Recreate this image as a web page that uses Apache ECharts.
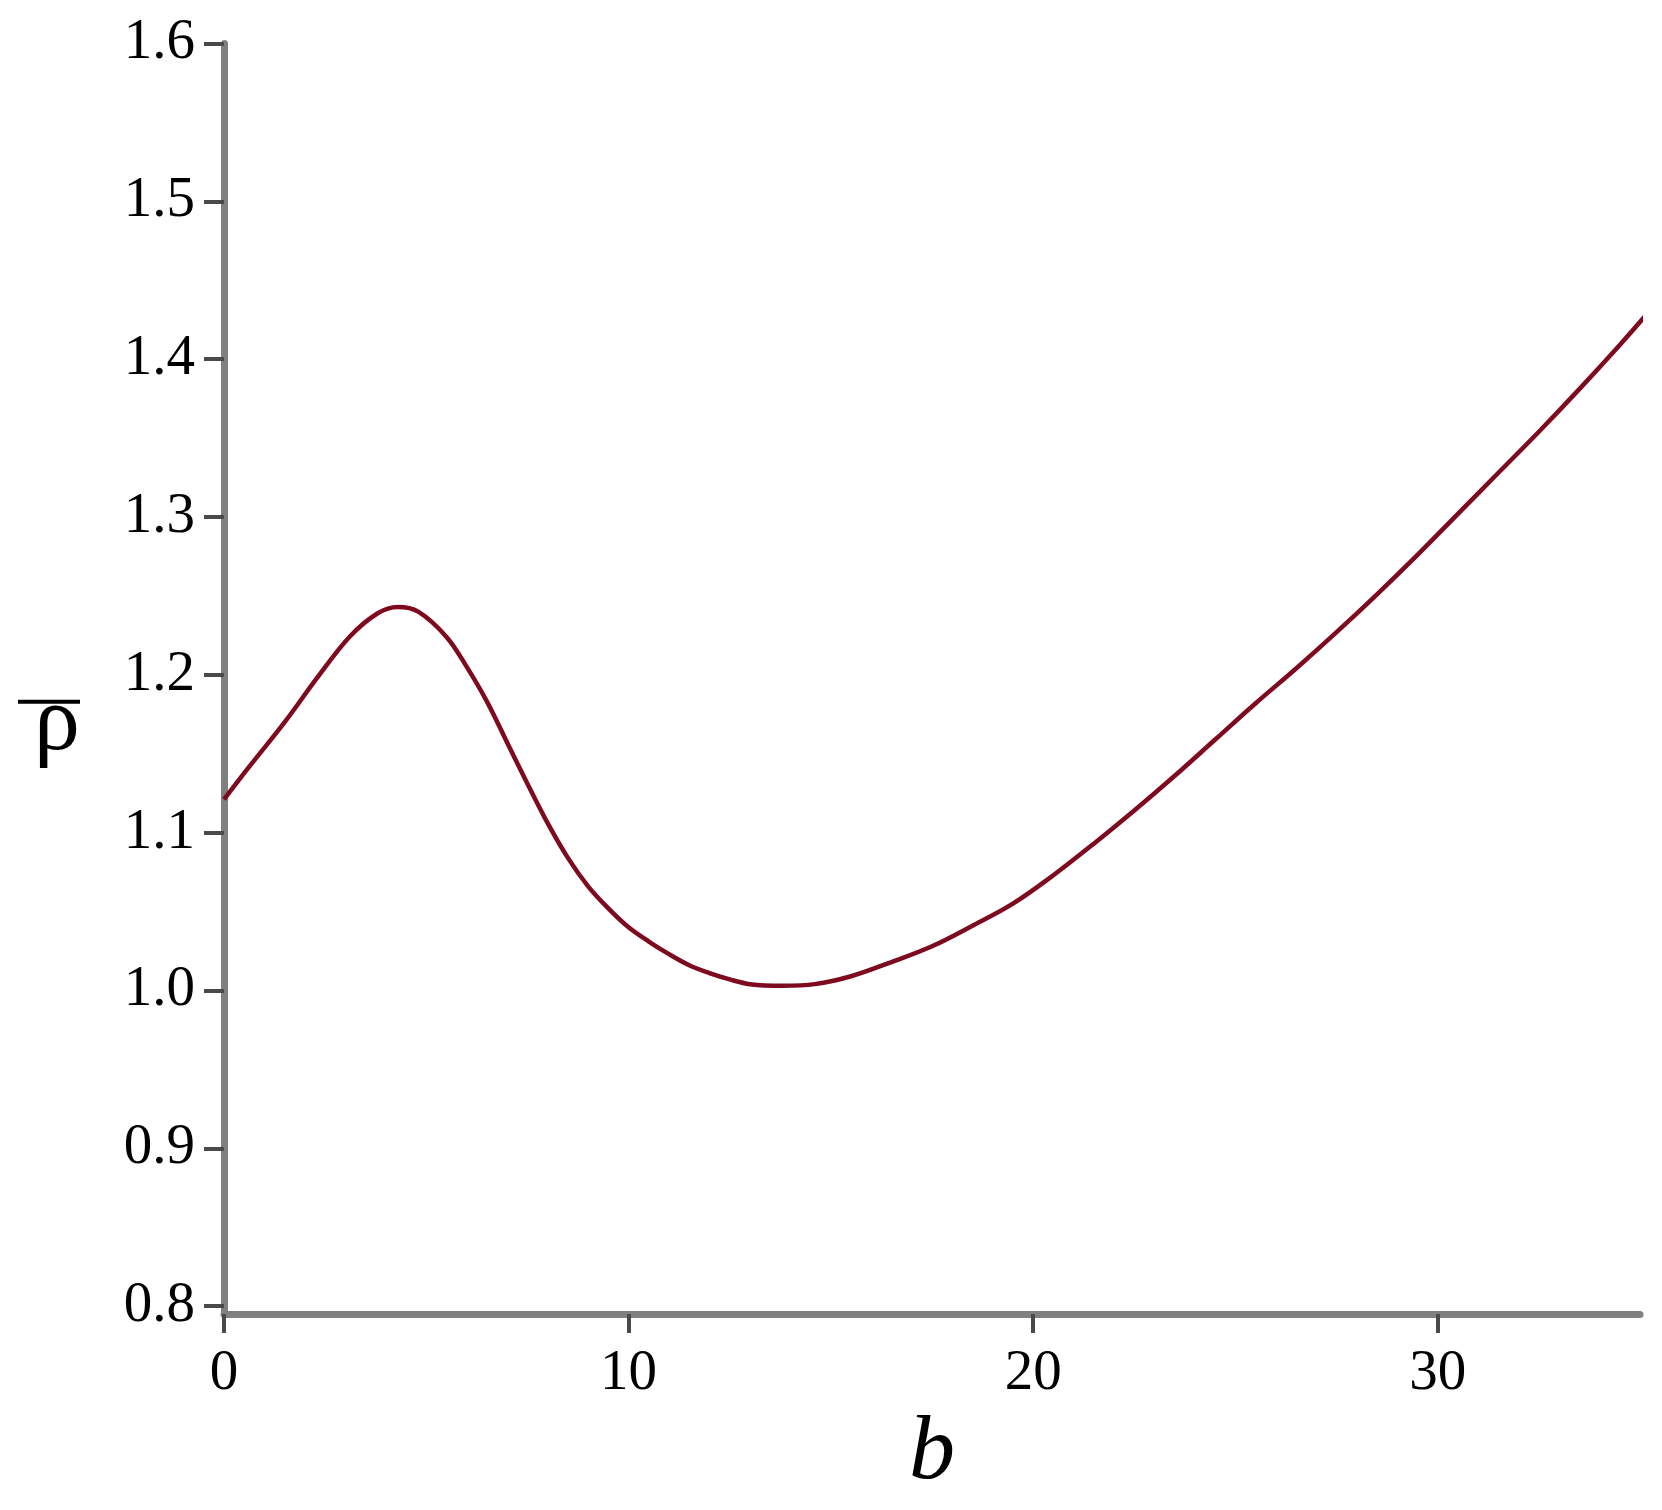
<!DOCTYPE html>
<html>
<head>
<meta charset="utf-8">
<style>
  html, body { margin: 0; padding: 0; background: #fff; }
  #chart { width: 1662px; height: 1510px; }
</style>
<script src="https://cdn.jsdelivr.net/npm/echarts@6/dist/echarts.min.js"></script>
</head>
<body>
<div id="chart"></div>
<script>
// b values (x) and rho-bar values (y)
const bValues = [0, 0.6, 1.5, 2.3, 3.1, 3.8, 4.3, 4.8, 5.5, 6.0, 6.5, 7.0, 7.5, 8.0, 8.5, 9.0, 9.5, 10.0,
  10.5, 11.0, 11.5, 12.0, 12.5, 13.0, 13.8, 14.6, 15.5, 16.5, 17.5, 18.5, 19.5, 20.5, 21.5, 22.5,
  23.5, 24.5, 25.5, 26.5, 27.5, 28.5, 29.5, 30.5, 31.5, 32.5, 33.5, 34.5, 35.15];
const rhoValues = [1.121, 1.141, 1.170, 1.198, 1.224, 1.239, 1.243, 1.240, 1.224, 1.205, 1.183, 1.157, 1.131, 1.106, 1.084, 1.066, 1.052, 1.040,
  1.031, 1.023, 1.016, 1.011, 1.007, 1.004, 1.003, 1.004, 1.009, 1.018, 1.028, 1.041, 1.055, 1.073, 1.093, 1.114,
  1.136, 1.159, 1.182, 1.204, 1.227, 1.251, 1.276, 1.302, 1.328, 1.354, 1.381, 1.409, 1.428];
const yTicks = [0.8, 0.9, 1.0, 1.1, 1.2, 1.3, 1.4, 1.5, 1.6];
const xTicks = [0, 10, 20, 30];
const xName = 'b';
const yName = 'ρ';

const seriesData = bValues.map((b, i) => [b, rhoValues[i]]);

const chart = echarts.init(document.getElementById('chart'), null, { renderer: 'canvas' });
const serif = '"Liberation Serif", "DejaVu Serif", serif';
const axisLineStyle = { color: '#808080', width: 7 };
const tickStyle = { color: '#4a4a4a', width: 4 };

chart.setOption({
  backgroundColor: '#ffffff',
  animation: false,
  grid: { left: 224, right: 22, top: 43.5, bottom: 196, containLabel: false },
  xAxis: {
    type: 'value',
    min: 0,
    max: 35,
    name: xName,
    nameLocation: 'middle',
    nameGap: 92,
    nameTextStyle: { fontFamily: serif, fontStyle: 'italic', fontSize: 92, color: '#000' },
    axisLine: { show: true, onZero: false, lineStyle: axisLineStyle },
    axisTick: { show: true, length: 19, customValues: xTicks, lineStyle: tickStyle },
    axisLabel: { customValues: xTicks, margin: 32, fontFamily: serif, fontSize: 57, color: '#000' },
    splitLine: { show: false }
  },
  yAxis: {
    type: 'value',
    min: 0.795,
    max: 1.6,
    name: '{bar| }\n{rho|' + yName + '}',
    nameLocation: 'middle',
    nameRotate: 0,
    nameGap: 144,
    nameTextStyle: {
      padding: [86, 0, 0, 0],
      rich: {
        bar: { width: 62, height: 4, lineHeight: 6, backgroundColor: '#000', fontSize: 4 },
        rho: { fontFamily: serif, fontSize: 92, lineHeight: 40, color: '#000', width: 62, align: 'right' }
      }
    },
    axisLine: { show: true, onZero: false, lineStyle: axisLineStyle },
    axisTick: { show: true, length: 20, customValues: yTicks, lineStyle: tickStyle },
    axisLabel: {
      customValues: yTicks,
      margin: 29,
      fontFamily: serif,
      fontSize: 57,
      color: '#000',
      formatter: v => v.toFixed(1)
    },
    splitLine: { show: false }
  },
  series: [{
    type: 'line',
    data: seriesData,
    showSymbol: false,
    smooth: 0.35,
    clip: false,
    lineStyle: { color: '#7d0a1e', width: 4.5 }
  }]
});
</script>
</body>
</html>
